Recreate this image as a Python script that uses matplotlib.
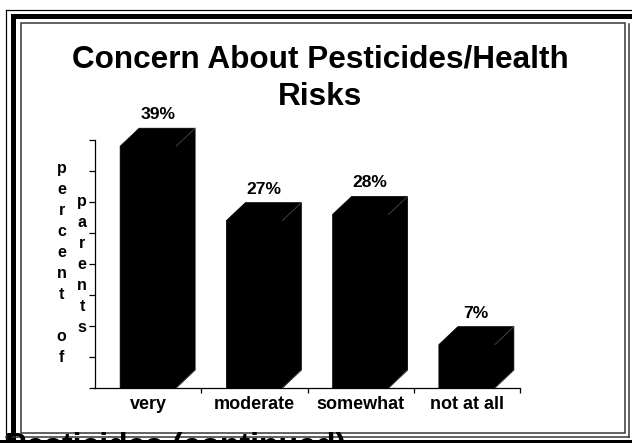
import matplotlib
matplotlib.use("Agg")
import matplotlib.pyplot as plt
from matplotlib.patches import Polygon, Rectangle
import warnings
warnings.filterwarnings("ignore")

# data
categories = ["very", "moderate", "somewhat", "not at all"]
percents = [39, 27, 28, 7]
title_lines = ["Concern About Pesticides/Health", "Risks"]
ylabel_left = "percent of"
ylabel_right = "parents"
footer = "Pesticides (continued)"

W, H = 632, 443
FONT = ["Liberation Sans", "DejaVu Sans"]


def pt(px):
    return px * 72 / 100


fig = plt.figure(figsize=(W / 100, H / 100), dpi=100)

# background layer in pixel coords (y down) for the slide frame
bg = fig.add_axes([0, 0, 1, 1], zorder=0)
bg.set_xlim(0, W)
bg.set_ylim(H, 0)
bg.axis("off")

bg.plot([5.5, 5.5], [H, 9.5], color="black", lw=pt(1.2))
bg.plot([5.5, W], [9.5, 9.5], color="black", lw=pt(1.2))
bg.add_patch(Rectangle((11, 14), W - 11, 5, color="black", lw=0))
bg.add_patch(Rectangle((11, 14), 5, H - 14, color="black", lw=0))
bg.add_patch(Rectangle((20.5, 22.5), 625 - 20.5, 433 - 22.5, fill=False,
                       edgecolor="#333333", lw=pt(1.5)))
bg.plot([629, 629], [24, 437], color="#333333", lw=pt(1.5))
bg.plot([5.5, 629], [437, 437], color="#333333", lw=pt(1.5))

# title (two lines, as on the slide) and the cut-off footer
for k, line in enumerate(title_lines):
    fig.text(320 / W, 1 - (67 + 38 * k) / H, line, ha="center", va="baseline",
             fontsize=pt(31.5), fontweight="bold", family=FONT)
fig.text(5 / W, 1 - 455 / H, footer, ha="left", va="baseline",
         fontsize=pt(32), fontweight="bold", family=FONT, zorder=3)
fig.add_artist(Rectangle((0, 0), 1, 3 / H, transform=fig.transFigure,
                         color="black", lw=0, zorder=4))

# vertical stacked y label, two columns
for i, ch in enumerate(ylabel_left):
    fig.text(61.5 / W, 1 - (173 + 21 * i) / H, ch, ha="center", va="baseline",
             fontsize=pt(16), fontweight="bold", family=FONT)
for i, ch in enumerate(ylabel_right):
    fig.text(82 / W, 1 - (206 + 21 * i) / H, ch, ha="center", va="baseline",
             fontsize=pt(16), fontweight="bold", family=FONT)

# chart axes
x0, x1, y0, y1 = 95, 520, 388, 140
ax = fig.add_axes([x0 / W, 1 - y0 / H, (x1 - x0) / W, (y0 - y1) / H], zorder=1)
ax.patch.set_alpha(0)
ax.set_xlim(0, len(categories))
ax.set_ylim(0, 40)

# 3d depth in data units (19 px right, 18 px up)
dx = 19 * len(categories) / (x1 - x0)
dy = 18 * 40 / (y0 - y1)
bw = 0.527

for i, v in enumerate(percents):
    l = i + 0.5 - bw / 2
    r = i + 0.5 + bw / 2
    pts = [(l, 0), (r, 0), (r + dx, dy), (r + dx, v + dy), (l + dx, v + dy), (l, v)]
    ax.add_patch(Polygon(pts, closed=True, facecolor="black", edgecolor="black",
                         lw=0.5, clip_on=False, zorder=3))
    ax.plot([r, r + dx], [v, v + dy], color="#4a4a4a", lw=0.6, clip_on=False, zorder=4)
    ax.plot([r, r + dx], [0, dy], color="#4a4a4a", lw=0.6, clip_on=False, zorder=4)
    ax.annotate(f"{v}%", (i + 0.5 + dx / 2, v + dy), xytext=(0, pt(9)),
                textcoords="offset points", ha="center", va="baseline",
                fontsize=pt(17.5), fontweight="bold", family=FONT,
                annotation_clip=False)

for s in ["top", "right"]:
    ax.spines[s].set_visible(False)
ax.spines["left"].set_bounds(0, 40)
for s in ["left", "bottom"]:
    ax.spines[s].set_linewidth(0.9)
    ax.spines[s].set_zorder(5)

ax.set_yticks(range(0, 41, 5))
ax.set_yticklabels([])
ax.set_xticks(range(1, len(categories) + 1))
ax.set_xticklabels([])
ax.set_xticks([i + 0.5 for i in range(len(categories))], categories, minor=True)
ax.tick_params(axis="y", direction="out", length=pt(6), width=0.9)
ax.tick_params(axis="x", which="major", direction="out", length=pt(5), width=0.9)
ax.tick_params(axis="x", which="minor", length=0, pad=6)
for lab in ax.get_xticklabels(minor=True):
    lab.set_fontsize(pt(18))
    lab.set_fontweight("bold")
    lab.set_family(FONT)

plt.savefig("out.png", dpi=100)
